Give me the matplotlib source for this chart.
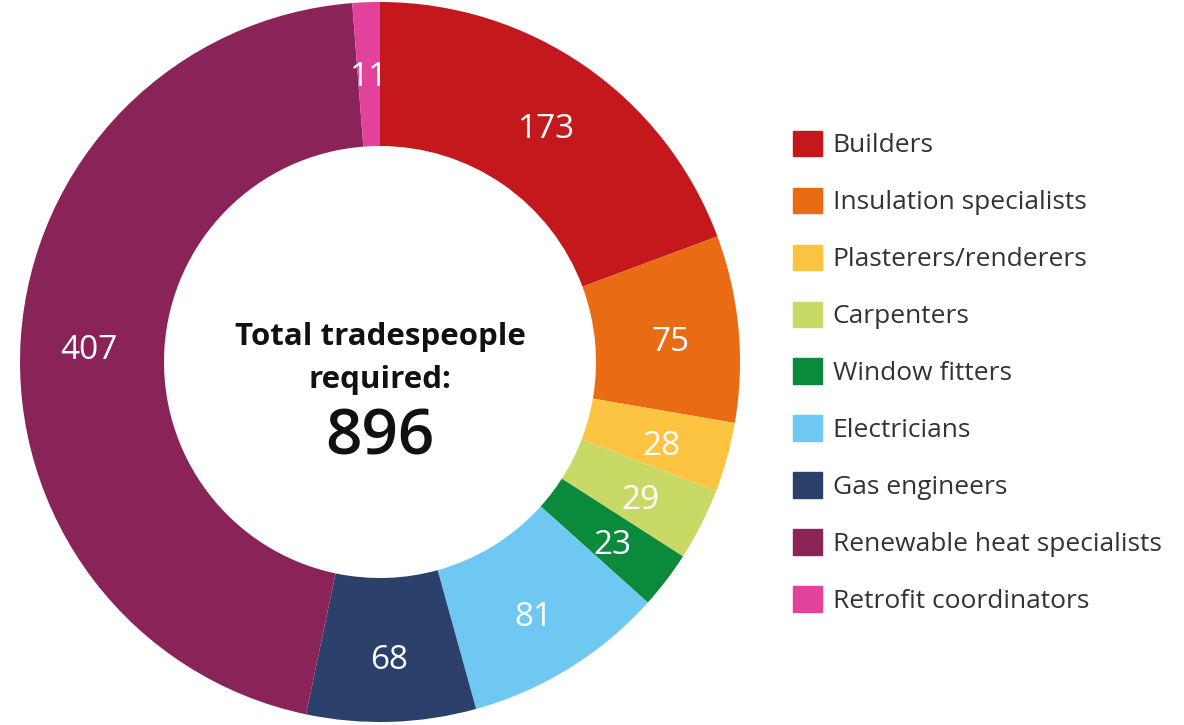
import numpy as np
import matplotlib
matplotlib.use("Agg")
import matplotlib.pyplot as plt
import matplotlib.patches as mpatches

plt.rcParams["font.family"] = ["Open Sans", "DejaVu Sans"]

# Tradespeople required, by trade (clockwise from 12 o'clock)
trades = [
    "Builders",
    "Insulation specialists",
    "Plasterers/renderers",
    "Carpenters",
    "Window fitters",
    "Electricians",
    "Gas engineers",
    "Renewable heat specialists",
    "Retrofit coordinators",
]
counts = [173, 75, 28, 29, 23, 81, 68, 407, 11]
colors = ["#c4181d", "#e96b14", "#fcc441", "#c9d965", "#0a8b3b",
          "#6fc8f1", "#2b416b", "#8a2458", "#e2429b"]
total_label = "896"

fig = plt.figure(figsize=(11.84, 7.25), dpi=100)
fig.patch.set_facecolor("white")

# donut, centred at about (380, 362) px with radius 360 px
ax = fig.add_axes([20 / 1184, 3 / 725, 720 / 1184, 720 / 725])
wedges, _ = ax.pie(
    counts,
    colors=colors,
    startangle=90,
    counterclock=False,
    radius=1.0,
    wedgeprops=dict(width=0.4, edgecolor="none"),
)
ax.set_aspect("equal")
ax.set_xlim(-1, 1)
ax.set_ylim(-1, 1)

# value labels inside the ring
for w, n in zip(wedges, counts):
    ang = np.deg2rad((w.theta1 + w.theta2) / 2)
    r = 0.81
    ax.text(r * np.cos(ang), r * np.sin(ang) - 0.02, str(n), color="white",
            fontsize=24, ha="center", va="center")

# centre text
ax.text(0, 0.07, "Total tradespeople", ha="center", va="center",
        fontsize=22.5, fontweight="bold", color="#111111")
ax.text(0, -0.05, "required:", ha="center", va="center",
        fontsize=22.5, fontweight="bold", color="#111111")
ax.text(0, -0.21, total_label, ha="center", va="center",
        fontsize=46, fontweight="semibold", color="#111111")

# legend on the right
handles = [mpatches.Patch(color=c, label=t) for c, t in zip(colors, trades)]
fig.legend(
    handles=handles,
    loc="upper left",
    bbox_to_anchor=(769 / 1184, 1 - 107 / 725),
    frameon=False,
    fontsize=19,
    handlelength=1.1,
    handleheight=1.1,
    handletextpad=0.42,
    labelspacing=1.11,
    labelcolor="#333333",
)

fig.savefig("out.png", dpi=100, facecolor="white")
